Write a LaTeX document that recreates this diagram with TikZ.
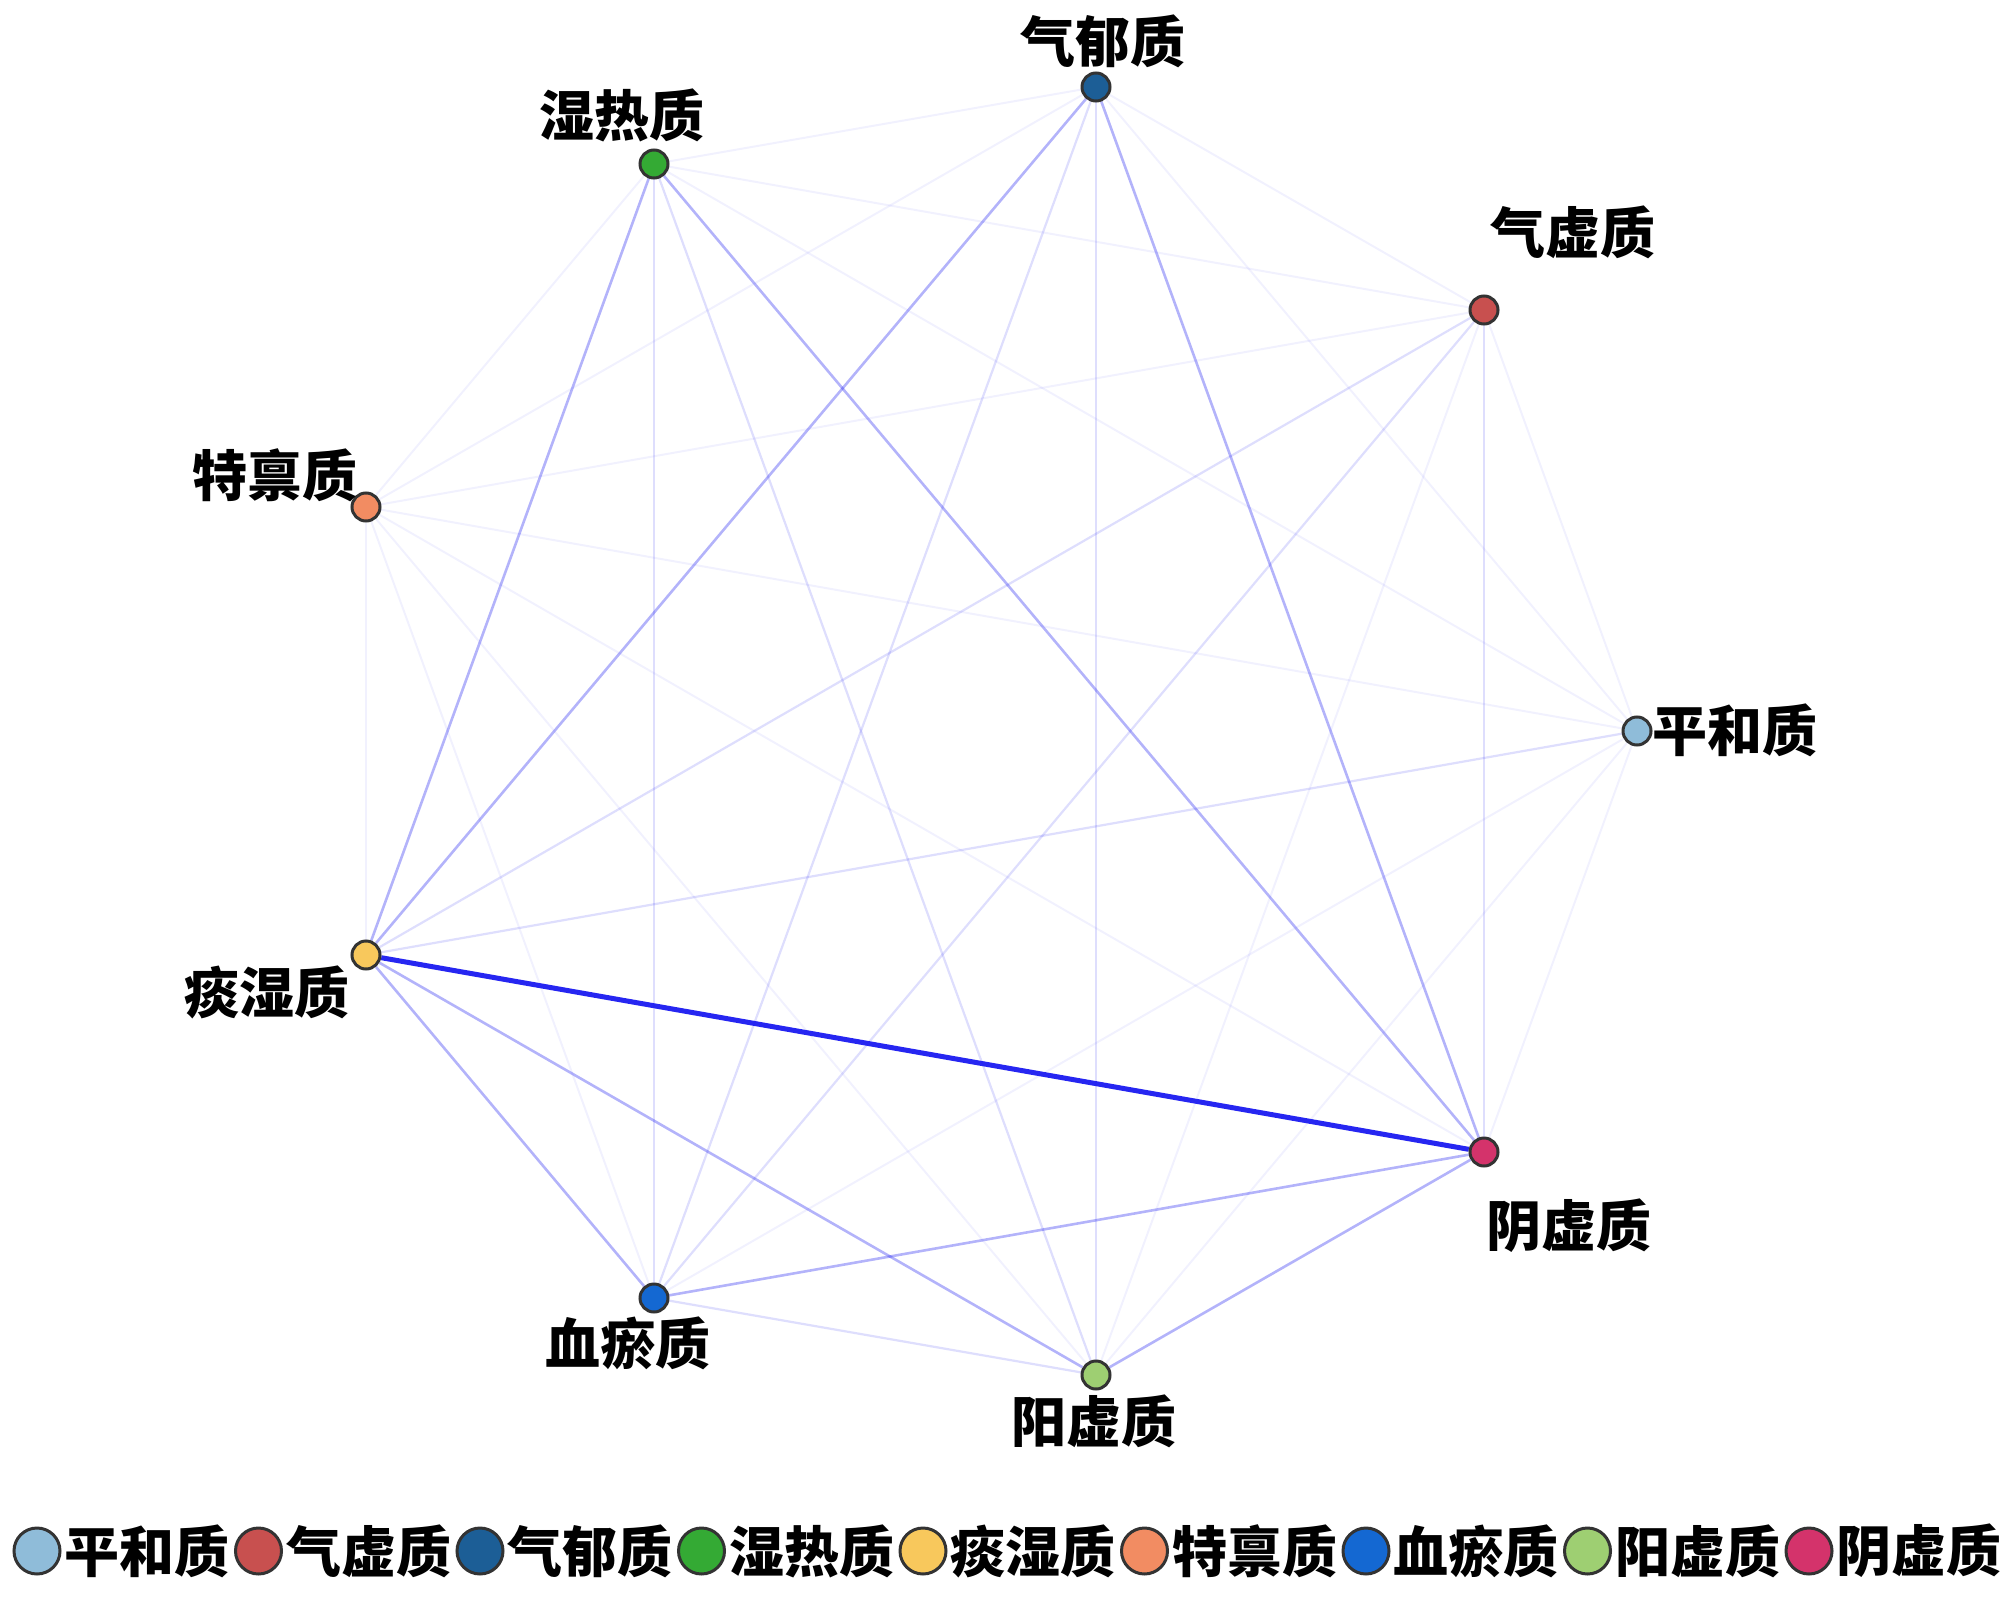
\documentclass[tikz,border=0pt]{standalone}
\usepackage{fontspec}
\newfontfamily\cjk{Noto Sans CJK SC}
\usetikzlibrary{backgrounds}
\definecolor{cP}{HTML}{8FBCD9}
\definecolor{cQX}{HTML}{C8504F}
\definecolor{cQY}{HTML}{1C5E96}
\definecolor{cSR}{HTML}{34AA34}
\definecolor{cTS}{HTML}{F8C85C}
\definecolor{cTB}{HTML}{F28C62}
\definecolor{cXY}{HTML}{1468D2}
\definecolor{cYang}{HTML}{9ECF72}
\definecolor{cYin}{HTML}{D4336B}
\definecolor{edgeblue}{HTML}{1414F0}
\begin{document}
\begin{tikzpicture}[x=1pt,y=-1pt,
  dot/.style={circle,draw=black!80,line width=3pt,minimum size=28pt,inner sep=0pt,fill=#1},
  ldot/.style={circle,draw=black!80,line width=3pt,minimum size=46pt,inner sep=0pt,fill=#1},
  lbl/.style={font=\cjk\bfseries\fontsize{55}{55}\selectfont,inner sep=0pt},
  ltxt/.style={font=\cjk\bfseries\fontsize{55}{55}\selectfont,inner sep=0pt,anchor=west},
  es/.style={draw=edgeblue,line width=5pt,opacity=0.92},
  em/.style={draw=edgeblue,line width=2.6pt,opacity=0.32},
  el/.style={draw=edgeblue,line width=2.2pt,opacity=0.14},
  ev/.style={draw=edgeblue,line width=2pt,opacity=0.06}]
\useasboundingbox (0,0) rectangle (2000,1602);
% nodes
\node[dot=cP]    (P)    at (1637,731) {};
\node[dot=cQX]   (QX)   at (1484,310) {};
\node[dot=cQY]   (QY)   at (1096,87) {};
\node[dot=cSR]   (SR)   at (654,164) {};
\node[dot=cTB]   (TB)   at (366,507) {};
\node[dot=cTS]   (TS)   at (366,955) {};
\node[dot=cXY]   (XY)   at (654,1298) {};
\node[dot=cYang] (Yang) at (1096,1375) {};
\node[dot=cYin]  (Yin)  at (1484,1152) {};
% labels
\node[lbl] (lP)    at (1735,730) {平和质};
\node[lbl] (lQX)   at (1573,232) {气虚质};
\node[lbl] (lQY)   at (1103,41) {气郁质};
\node[lbl] (lSR)   at (622,115) {湿热质};
\node[lbl] (lTB)   at (275,475) {特禀质};
\node[lbl] (lTS)   at (267,992) {痰湿质};
\node[lbl] (lXY)   at (628,1343) {血瘀质};
\node[lbl] (lYang) at (1094,1421) {阳虚质};
\node[lbl] (lYin)  at (1569,1226) {阴虚质};
% edges
\begin{scope}[on background layer]
\draw[ev] (P) -- (QX);
\draw[ev] (P) -- (QY);
\draw[ev] (P) -- (SR);
\draw[el] (P) -- (TS);
\draw[ev] (P) -- (TB);
\draw[ev] (P) -- (XY);
\draw[ev] (P) -- (Yang);
\draw[ev] (P) -- (Yin);
\draw[ev] (QX) -- (QY);
\draw[ev] (QX) -- (SR);
\draw[el] (QX) -- (TS);
\draw[ev] (QX) -- (TB);
\draw[el] (QX) -- (XY);
\draw[ev] (QX) -- (Yang);
\draw[el] (QX) -- (Yin);
\draw[ev] (QY) -- (SR);
\draw[em] (QY) -- (TS);
\draw[ev] (QY) -- (TB);
\draw[el] (QY) -- (XY);
\draw[el] (QY) -- (Yang);
\draw[em] (QY) -- (Yin);
\draw[em] (SR) -- (TS);
\draw[ev] (SR) -- (TB);
\draw[el] (SR) -- (XY);
\draw[el] (SR) -- (Yang);
\draw[em] (SR) -- (Yin);
\draw[ev] (TS) -- (TB);
\draw[em] (TS) -- (XY);
\draw[em] (TS) -- (Yang);
\draw[es] (TS) -- (Yin);
\draw[ev] (TB) -- (XY);
\draw[ev] (TB) -- (Yang);
\draw[ev] (TB) -- (Yin);
\draw[el] (XY) -- (Yang);
\draw[em] (XY) -- (Yin);
\draw[em] (Yang) -- (Yin);
\end{scope}
% legend
\node[ldot=cP]    (k1) at (37,1551) {};
\node[ltxt] (t1) at ([xshift=3pt]k1.east) {平和质};
\node[ldot=cQX]   (k2) at (258.5,1551) {};
\node[ltxt] (t2) at ([xshift=3pt]k2.east) {气虚质};
\node[ldot=cQY]   (k3) at (480,1551) {};
\node[ltxt] (t3) at ([xshift=3pt]k3.east) {气郁质};
\node[ldot=cSR]   (k4) at (701.5,1551) {};
\node[ltxt] (t4) at ([xshift=3pt]k4.east) {湿热质};
\node[ldot=cTS]   (k5) at (923,1551) {};
\node[ltxt] (t5) at ([xshift=3pt]k5.east) {痰湿质};
\node[ldot=cTB]   (k6) at (1144.5,1551) {};
\node[ltxt] (t6) at ([xshift=3pt]k6.east) {特禀质};
\node[ldot=cXY]   (k7) at (1366,1551) {};
\node[ltxt] (t7) at ([xshift=3pt]k7.east) {血瘀质};
\node[ldot=cYang] (k8) at (1587.5,1551) {};
\node[ltxt] (t8) at ([xshift=3pt]k8.east) {阳虚质};
\node[ldot=cYin]  (k9) at (1809,1551) {};
\node[ltxt] (t9) at ([xshift=3pt]k9.east) {阴虚质};
\end{tikzpicture}
\end{document}
